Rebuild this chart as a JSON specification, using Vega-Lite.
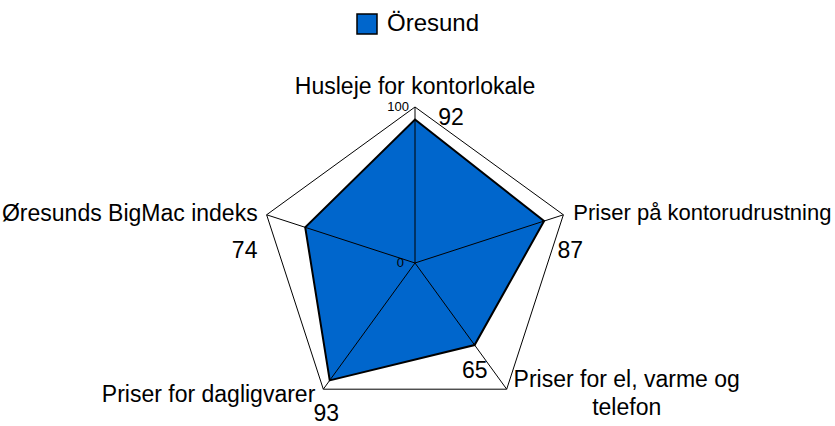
{
  "$schema": "https://vega.github.io/schema/vega-lite/v6.json",
  "width": 835,
  "height": 426,
  "padding": 0,
  "autosize": "none",
  "background": "white",
  "config": {"view": {"stroke": null}, "font": "Liberation Sans"},
  "data": {"values": [
    {"i": 0, "series": "Öresund", "category": "Husleje for kontorlokale", "value": 92},
    {"i": 1, "series": "Öresund", "category": "Priser på kontorudrustning", "value": 87},
    {"i": 2, "series": "Öresund", "category": "Priser for el, varme og\ntelefon", "value": 65},
    {"i": 3, "series": "Öresund", "category": "Priser for dagligvarer", "value": 93},
    {"i": 4, "series": "Öresund", "category": "Øresunds BigMac indeks", "value": 74}
  ]},
  "transform": [
    {"calculate": "datum.i * 2 * PI / 5", "as": "a"},
    {"calculate": "datum.value * sin(datum.a)", "as": "px"},
    {"calculate": "datum.value * cos(datum.a)", "as": "py"},
    {"calculate": "100 * sin(datum.a)", "as": "ox"},
    {"calculate": "100 * cos(datum.a)", "as": "oy"}
  ],
  "layer": [
    {
      "mark": {"type": "line", "interpolate": "linear-closed", "fill": "white", "stroke": "black", "strokeWidth": 1},
      "encoding": {
        "x": {"field": "ox", "type": "quantitative", "scale": {"domain": [-266.03, 269.23], "nice": false, "zero": false}, "axis": null},
        "y": {"field": "oy", "type": "quantitative", "scale": {"domain": [-104.49, 168.59], "nice": false, "zero": false}, "axis": null},
        "order": {"field": "i", "type": "quantitative"}
      }
    },
    {
      "mark": {"type": "line", "interpolate": "linear-closed", "stroke": "black", "strokeWidth": 2},
      "encoding": {
        "x": {"field": "px", "type": "quantitative", "scale": {"domain": [-266.03, 269.23], "nice": false, "zero": false}, "axis": null},
        "y": {"field": "py", "type": "quantitative", "scale": {"domain": [-104.49, 168.59], "nice": false, "zero": false}, "axis": null},
        "order": {"field": "i", "type": "quantitative"},
        "fill": {"field": "series", "type": "nominal", "scale": {"range": ["#0066CC"]},
          "legend": {"orient": "none", "legendX": 355, "legendY": 12, "title": null, "symbolType": "square", "symbolSize": 400, "symbolStrokeColor": "black", "symbolStrokeWidth": 1.5, "symbolOpacity": 1, "labelFontSize": 24, "labelFont": "Liberation Sans", "labelColor": "black", "labelOffset": 8, "padding": 0}}
      }
    },
    {
      "mark": {"type": "rule", "stroke": "black", "strokeWidth": 1},
      "encoding": {
        "x": {"field": "ox", "type": "quantitative", "scale": {"domain": [-266.03, 269.23], "nice": false, "zero": false}, "axis": null},
        "y": {"field": "oy", "type": "quantitative", "scale": {"domain": [-104.49, 168.59], "nice": false, "zero": false}, "axis": null},
        "x2": {"datum": 0},
        "y2": {"datum": 0}
      }
    },
    {
      "transform": [{"filter": "datum.i == 0"}],
      "mark": {"type": "text", "fontSize": 13, "align": "right", "baseline": "middle", "dx": -11, "dy": 0, "color": "black"},
      "encoding": {
        "x": {"datum": 0, "type": "quantitative"},
        "y": {"datum": 0, "type": "quantitative"},
        "text": {"value": "0"}
      }
    },
    {
      "transform": [{"filter": "datum.i == 0"}],
      "mark": {"type": "text", "fontSize": 13, "align": "right", "baseline": "middle", "dx": -6, "dy": 0, "color": "black"},
      "encoding": {
        "x": {"field": "ox", "type": "quantitative"},
        "y": {"field": "oy", "type": "quantitative"},
        "text": {"value": "100"}
      }
    },
    {
      "transform": [{"filter": "datum.i == 0"}],
      "mark": {"type": "text", "fontSize": 23, "align": "center", "baseline": "alphabetic", "dx": 0, "dy": -13, "color": "black"},
      "encoding": {"x": {"field": "ox", "type": "quantitative"}, "y": {"field": "oy", "type": "quantitative"}, "text": {"field": "category"}}
    },
    {
      "transform": [{"filter": "datum.i == 1"}],
      "mark": {"type": "text", "fontSize": 22, "align": "left", "baseline": "alphabetic", "dx": 10, "dy": 5, "color": "black"},
      "encoding": {"x": {"field": "ox", "type": "quantitative"}, "y": {"field": "oy", "type": "quantitative"}, "text": {"field": "category"}}
    },
    {
      "transform": [{"filter": "datum.i == 2"}],
      "mark": {"type": "text", "fontSize": 23, "align": "center", "baseline": "alphabetic", "lineBreak": "\n", "lineHeight": 28, "dx": 120, "dy": -2, "color": "black"},
      "encoding": {"x": {"field": "ox", "type": "quantitative"}, "y": {"field": "oy", "type": "quantitative"}, "text": {"field": "category"}}
    },
    {
      "transform": [{"filter": "datum.i == 3"}],
      "mark": {"type": "text", "fontSize": 23, "align": "right", "baseline": "alphabetic", "dx": -8, "dy": 13, "color": "black"},
      "encoding": {"x": {"field": "ox", "type": "quantitative"}, "y": {"field": "oy", "type": "quantitative"}, "text": {"field": "category"}}
    },
    {
      "transform": [{"filter": "datum.i == 4"}],
      "mark": {"type": "text", "fontSize": 23, "align": "right", "baseline": "alphabetic", "dx": -9, "dy": 6, "color": "black"},
      "encoding": {"x": {"field": "ox", "type": "quantitative"}, "y": {"field": "oy", "type": "quantitative"}, "text": {"field": "category"}}
    },
    {
      "transform": [{"filter": "datum.i == 0"}],
      "mark": {"type": "text", "fontSize": 23, "align": "center", "baseline": "middle", "dx": 36, "dy": 11, "color": "black"},
      "encoding": {"x": {"field": "ox", "type": "quantitative"}, "y": {"field": "oy", "type": "quantitative"}, "text": {"field": "value", "type": "quantitative"}}
    },
    {
      "transform": [{"filter": "datum.i == 1"}],
      "mark": {"type": "text", "fontSize": 23, "align": "center", "baseline": "middle", "dx": 7, "dy": 36, "color": "black"},
      "encoding": {"x": {"field": "ox", "type": "quantitative"}, "y": {"field": "oy", "type": "quantitative"}, "text": {"field": "value", "type": "quantitative"}}
    },
    {
      "transform": [{"filter": "datum.i == 2"}],
      "mark": {"type": "text", "fontSize": 23, "align": "center", "baseline": "middle", "dx": -32, "dy": -18, "color": "black"},
      "encoding": {"x": {"field": "ox", "type": "quantitative"}, "y": {"field": "oy", "type": "quantitative"}, "text": {"field": "value", "type": "quantitative"}}
    },
    {
      "transform": [{"filter": "datum.i == 3"}],
      "mark": {"type": "text", "fontSize": 23, "align": "center", "baseline": "middle", "dx": 3, "dy": 25, "color": "black"},
      "encoding": {"x": {"field": "ox", "type": "quantitative"}, "y": {"field": "oy", "type": "quantitative"}, "text": {"field": "value", "type": "quantitative"}}
    },
    {
      "transform": [{"filter": "datum.i == 4"}],
      "mark": {"type": "text", "fontSize": 23, "align": "center", "baseline": "middle", "dx": -22, "dy": 36, "color": "black"},
      "encoding": {"x": {"field": "ox", "type": "quantitative"}, "y": {"field": "oy", "type": "quantitative"}, "text": {"field": "value", "type": "quantitative"}}
    }
  ]
}
